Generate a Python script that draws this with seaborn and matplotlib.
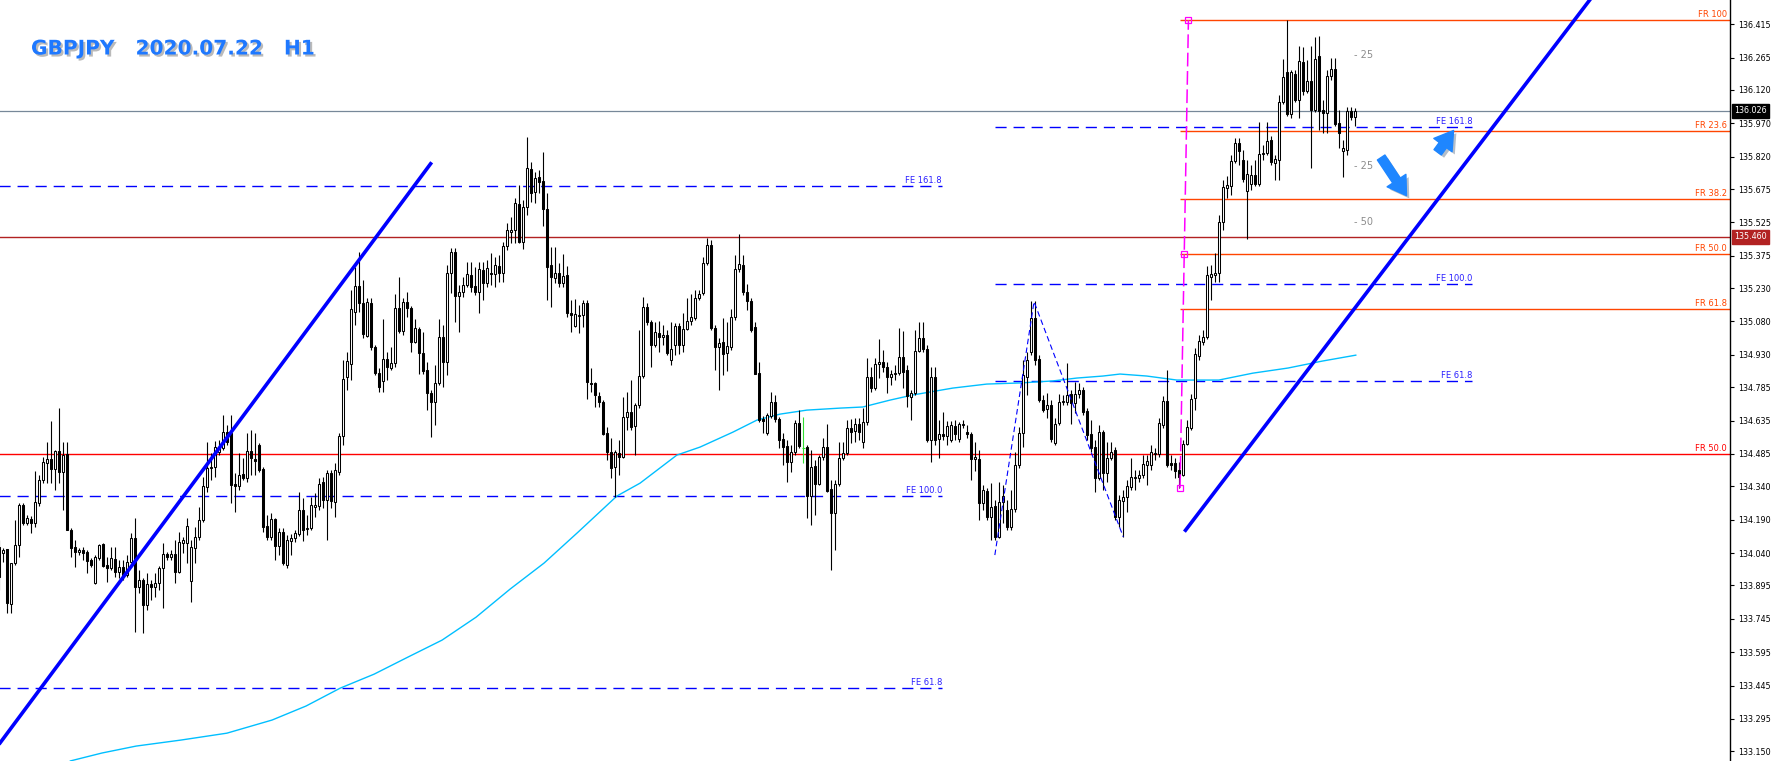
import numpy as np
import pandas as pd
import matplotlib
matplotlib.use("Agg")
import matplotlib.pyplot as plt
import matplotlib.patheffects as pe
from matplotlib.patches import FancyArrowPatch
from matplotlib.transforms import blended_transform_factory
import seaborn as sns

# GBPJPY H1 candles (oldest first)
opens = [
    134.066, 134.040, 134.058, 133.811, 133.995, 134.076, 134.256, 134.175, 134.193, 134.175,
    134.265, 134.368, 134.444, 134.462, 134.417, 134.498, 134.404, 134.485, 134.143, 134.066,
    134.044, 134.053, 134.044, 134.009, 133.906, 134.018, 134.080, 133.986, 133.973, 134.013,
    133.955, 133.977, 133.941, 134.000, 134.107, 133.888, 133.919, 133.806, 133.901, 133.888,
    133.906, 133.973, 134.035, 134.022, 134.035, 133.955, 134.085, 134.085, 133.915, 134.062,
    134.112, 134.188, 134.337, 134.422, 134.426, 134.494, 134.512, 134.583, 134.579, 134.350,
    134.341, 134.395, 134.377, 134.498, 134.462, 134.525, 134.417, 134.161, 134.112, 134.193,
    134.071, 134.134, 133.986, 134.094, 134.107, 134.125, 134.233, 134.148, 134.152, 134.247,
    134.251, 134.359, 134.278, 134.399, 134.269, 134.404, 134.566, 134.831, 134.889, 135.123,
    135.240, 135.163, 135.015, 135.163, 134.966, 134.849, 134.813, 134.912, 134.871, 134.894,
    135.141, 135.037, 135.167, 135.141, 134.988, 135.046, 134.939, 134.862, 134.759, 134.718,
    134.804, 135.010, 134.898, 135.298, 135.392, 135.194, 135.212, 135.244, 135.289, 135.240,
    135.212, 135.311, 135.253, 135.298, 135.293, 135.329, 135.298, 135.419, 135.482, 135.491,
    135.608, 135.437, 135.594, 135.764, 135.662, 135.729, 135.711, 135.585, 135.334, 135.275,
    135.298, 135.253, 135.289, 135.118, 135.060, 135.105, 135.109, 135.163, 134.804, 134.804,
    134.745, 134.718, 134.579, 134.494, 134.426, 134.489, 134.471, 134.651, 134.673, 134.610,
    134.704, 134.835, 135.145, 135.078, 134.975, 135.028, 135.010, 135.019, 134.907, 134.975,
    135.060, 134.975, 135.046, 135.082, 135.096, 135.185, 135.208, 135.343, 135.424, 135.051,
    134.966, 134.988, 134.939, 134.966, 135.100, 135.316, 135.334, 135.212, 135.172, 135.055,
    134.849, 134.642, 134.579, 134.655, 134.718, 134.642, 134.552, 134.521, 134.449, 134.494,
    134.624, 134.512, 134.516, 134.296, 134.431, 134.350, 134.471, 134.516, 134.328, 134.220,
    134.350, 134.467, 134.489, 134.601, 134.588, 134.619, 134.539, 134.628, 134.831, 134.781,
    134.889, 134.898, 134.876, 134.831, 134.844, 134.849, 134.921, 134.862, 134.740, 134.759,
    134.948, 135.006, 134.957, 134.548, 134.831, 134.552, 134.574, 134.565, 134.548, 134.610,
    134.552, 134.615, 134.583, 134.574, 134.462, 134.462, 134.265, 134.319, 134.202, 134.251,
    134.112, 134.269, 134.233, 134.157, 134.238, 134.435, 134.579, 134.831, 134.943, 135.096,
    134.912, 134.727, 134.687, 134.704, 134.534, 134.624, 134.718, 134.718, 134.754, 134.714,
    134.754, 134.772, 134.678, 134.574, 134.516, 134.377, 134.583, 134.399, 134.467, 134.503,
    134.202, 134.274, 134.292, 134.337, 134.377, 134.377, 134.390, 134.435, 134.435, 134.485,
    134.485, 134.615, 134.723, 134.444, 134.444, 134.413, 134.390, 134.530, 134.601, 134.736,
    134.925, 134.988, 135.010, 135.280, 135.289, 135.298, 135.527, 135.680, 135.689, 135.800,
    135.882, 135.805, 135.666, 135.697, 135.738, 135.697, 135.832, 135.836, 135.895, 135.791,
    135.805, 136.066, 136.201, 136.012, 136.192, 136.075, 136.245, 136.116, 136.161, 136.030,
    136.272, 136.030, 136.016, 136.183, 136.214, 135.972, 135.846, 135.850, 136.025, 135.997,
]
highs = [
    134.098, 134.062, 134.058, 133.995, 134.188, 134.265, 134.265, 134.211, 134.206, 134.408,
    134.390, 134.472, 134.539, 134.633, 134.503, 134.691, 134.539, 134.539, 134.152, 134.098,
    134.062, 134.066, 134.053, 134.018, 134.031, 134.080, 134.085, 134.022, 134.066, 134.066,
    134.009, 134.009, 134.031, 134.130, 134.197, 133.964, 133.928, 133.950, 133.919, 133.950,
    133.982, 134.085, 134.044, 134.053, 134.098, 134.134, 134.112, 134.197, 134.098, 134.157,
    134.247, 134.382, 134.539, 134.489, 134.543, 134.548, 134.660, 134.615, 134.660, 134.399,
    134.489, 134.467, 134.579, 134.592, 134.579, 134.534, 134.426, 134.211, 134.220, 134.197,
    134.152, 134.152, 134.120, 134.125, 134.143, 134.314, 134.287, 134.211, 134.292, 134.310,
    134.377, 134.382, 134.413, 134.413, 134.444, 134.579, 134.907, 134.943, 135.221, 135.325,
    135.392, 135.266, 135.185, 135.185, 134.975, 134.871, 135.091, 134.943, 134.966, 135.203,
    135.280, 135.185, 135.212, 135.150, 135.091, 135.055, 135.033, 134.898, 134.772, 134.885,
    135.091, 135.064, 135.334, 135.410, 135.410, 135.244, 135.280, 135.347, 135.347, 135.325,
    135.347, 135.347, 135.356, 135.388, 135.370, 135.379, 135.437, 135.522, 135.549, 135.635,
    135.693, 135.626, 135.909, 135.796, 135.751, 135.760, 135.841, 135.657, 135.415, 135.415,
    135.343, 135.383, 135.329, 135.176, 135.181, 135.154, 135.176, 135.176, 134.871, 134.808,
    134.763, 134.727, 134.606, 134.557, 134.503, 134.548, 134.740, 134.763, 134.817, 134.714,
    135.042, 135.190, 135.163, 135.087, 135.078, 135.082, 135.064, 135.042, 135.078, 135.073,
    135.073, 135.118, 135.185, 135.203, 135.221, 135.221, 135.370, 135.455, 135.446, 135.064,
    135.006, 135.096, 135.078, 135.136, 135.379, 135.473, 135.379, 135.248, 135.185, 135.078,
    134.898, 134.655, 134.669, 134.763, 134.750, 134.651, 134.579, 134.548, 134.525, 134.637,
    134.682, 134.651, 134.525, 134.503, 134.458, 134.480, 134.557, 134.620, 134.368, 134.368,
    134.539, 134.539, 134.637, 134.642, 134.646, 134.646, 134.691, 134.916, 134.876, 134.916,
    135.001, 134.952, 134.898, 134.862, 134.885, 135.051, 135.037, 134.885, 134.772, 135.042,
    135.078, 135.078, 134.975, 134.876, 134.876, 134.637, 134.673, 134.633, 134.633, 134.637,
    134.628, 134.637, 134.615, 134.583, 134.539, 134.503, 134.346, 134.332, 134.355, 134.278,
    134.359, 134.346, 134.278, 134.323, 134.494, 134.606, 134.907, 134.943, 135.172, 135.172,
    134.930, 134.750, 134.759, 134.727, 134.646, 134.754, 134.750, 134.893, 134.772, 134.808,
    134.804, 134.786, 134.691, 134.637, 134.548, 134.615, 134.592, 134.539, 134.539, 134.516,
    134.301, 134.323, 134.368, 134.467, 134.413, 134.413, 134.480, 134.480, 134.525, 134.512,
    134.646, 134.745, 134.862, 134.480, 134.467, 134.449, 134.548, 134.637, 134.754, 134.961,
    135.019, 135.042, 135.329, 135.334, 135.388, 135.558, 135.715, 135.733, 135.827, 135.904,
    135.904, 135.850, 135.805, 135.782, 135.805, 135.976, 135.873, 135.976, 135.913, 135.827,
    136.098, 136.259, 136.434, 136.210, 136.210, 136.317, 136.313, 136.254, 136.317, 136.358,
    136.362, 136.075, 136.210, 136.263, 136.263, 136.030, 135.895, 136.043, 136.043, 136.039,
]
lows = [
    133.874, 134.000, 133.771, 133.771, 133.986, 134.022, 134.166, 134.166, 134.130, 134.157,
    134.251, 134.355, 134.355, 134.355, 134.323, 134.355, 134.233, 134.143, 134.022, 133.977,
    134.031, 134.009, 133.950, 133.977, 133.901, 134.009, 133.977, 133.910, 133.964, 133.932,
    133.928, 133.919, 133.932, 133.995, 133.685, 133.861, 133.681, 133.784, 133.829, 133.843,
    133.874, 133.793, 134.009, 134.009, 133.906, 133.950, 134.040, 133.995, 133.820, 133.995,
    134.098, 134.179, 134.314, 134.368, 134.382, 134.480, 134.503, 134.525, 134.265, 134.224,
    134.323, 134.368, 134.359, 134.390, 134.390, 134.404, 134.134, 134.098, 134.098, 134.009,
    134.031, 133.986, 133.973, 134.031, 134.089, 134.116, 134.094, 134.121, 134.143, 134.202,
    134.233, 134.242, 134.098, 134.242, 134.202, 134.390, 134.525, 134.772, 134.817, 135.064,
    135.123, 135.006, 135.010, 134.952, 134.840, 134.763, 134.763, 134.817, 134.862, 134.876,
    135.028, 135.019, 135.100, 134.943, 134.984, 134.844, 134.844, 134.682, 134.561, 134.615,
    134.795, 134.786, 134.840, 135.208, 135.078, 135.033, 135.190, 135.235, 135.212, 135.199,
    135.118, 135.176, 135.235, 135.244, 135.235, 135.257, 135.257, 135.401, 135.432, 135.432,
    135.432, 135.406, 135.559, 135.617, 135.612, 135.657, 135.509, 135.176, 135.145, 135.253,
    135.235, 135.235, 135.100, 135.033, 135.055, 135.028, 135.055, 134.731, 134.763, 134.696,
    134.696, 134.570, 134.458, 134.377, 134.292, 134.390, 134.467, 134.592, 134.592, 134.480,
    134.691, 134.826, 135.064, 134.876, 134.966, 134.943, 134.975, 134.930, 134.885, 134.930,
    134.934, 134.943, 135.042, 135.064, 135.087, 135.176, 135.199, 135.334, 135.042, 134.862,
    134.772, 134.840, 134.858, 134.952, 135.087, 135.302, 135.199, 135.132, 135.033, 134.844,
    134.628, 134.579, 134.570, 134.646, 134.628, 134.512, 134.435, 134.359, 134.404, 134.480,
    134.512, 134.444, 134.197, 134.166, 134.211, 134.346, 134.458, 134.314, 133.964, 134.053,
    134.341, 134.458, 134.480, 134.534, 134.539, 134.548, 134.512, 134.615, 134.763, 134.772,
    134.826, 134.853, 134.759, 134.795, 134.817, 134.840, 134.781, 134.696, 134.637, 134.750,
    134.943, 134.943, 134.539, 134.449, 134.525, 134.467, 134.548, 134.525, 134.539, 134.548,
    134.539, 134.601, 134.556, 134.368, 134.408, 134.188, 134.233, 134.188, 134.098, 134.098,
    134.107, 134.175, 134.143, 134.143, 134.224, 134.422, 134.516, 134.750, 134.930, 134.885,
    134.718, 134.673, 134.646, 134.539, 134.525, 134.615, 134.704, 134.704, 134.620, 134.669,
    134.736, 134.660, 134.548, 134.494, 134.314, 134.368, 134.323, 134.359, 134.458, 134.188,
    134.157, 134.112, 134.224, 134.323, 134.323, 134.359, 134.377, 134.346, 134.413, 134.458,
    134.472, 134.601, 134.426, 134.413, 134.377, 134.332, 134.386, 134.525, 134.592, 134.682,
    134.907, 134.975, 135.001, 135.176, 135.257, 135.257, 135.491, 135.635, 135.648, 135.791,
    135.782, 135.706, 135.451, 135.671, 135.689, 135.689, 135.805, 135.827, 135.782, 135.715,
    135.715, 136.057, 136.003, 135.994, 136.066, 135.994, 136.098, 136.107, 135.769, 136.021,
    135.940, 135.927, 135.927, 136.165, 135.958, 135.859, 135.729, 135.827, 135.985, 135.958,
]
closes = [
    133.932, 134.053, 133.816, 133.995, 134.076, 134.256, 134.175, 134.197, 134.175, 134.269,
    134.368, 134.449, 134.462, 134.417, 134.498, 134.404, 134.480, 134.143, 134.062, 134.044,
    134.053, 134.040, 134.004, 133.986, 134.022, 134.076, 133.982, 133.973, 134.018, 133.955,
    133.977, 133.941, 134.000, 134.107, 133.888, 133.919, 133.806, 133.901, 133.888, 133.906,
    133.973, 134.035, 134.022, 134.035, 133.955, 134.089, 134.098, 134.161, 134.066, 134.112,
    134.188, 134.341, 134.422, 134.426, 134.516, 134.516, 134.583, 134.539, 134.346, 134.341,
    134.390, 134.377, 134.498, 134.467, 134.453, 134.413, 134.157, 134.112, 134.193, 134.071,
    134.134, 133.995, 134.098, 134.107, 134.130, 134.233, 134.143, 134.152, 134.256, 134.256,
    134.350, 134.278, 134.399, 134.274, 134.413, 134.566, 134.822, 134.903, 135.136, 135.240,
    135.163, 135.024, 135.167, 134.966, 134.849, 134.786, 134.912, 134.876, 134.894, 135.141,
    135.037, 135.167, 135.141, 134.988, 135.051, 134.939, 134.858, 134.759, 134.718, 134.804,
    135.010, 134.898, 135.298, 135.392, 135.194, 135.212, 135.244, 135.293, 135.235, 135.212,
    135.316, 135.253, 135.320, 135.293, 135.334, 135.298, 135.419, 135.491, 135.491, 135.612,
    135.437, 135.594, 135.769, 135.657, 135.724, 135.706, 135.585, 135.325, 135.280, 135.298,
    135.253, 135.284, 135.118, 135.109, 135.114, 135.109, 135.163, 134.808, 134.799, 134.750,
    134.718, 134.574, 134.494, 134.422, 134.494, 134.471, 134.651, 134.673, 134.606, 134.704,
    134.835, 135.145, 135.078, 134.975, 135.033, 135.010, 135.019, 134.939, 134.957, 135.060,
    134.975, 135.046, 135.082, 135.100, 135.185, 135.203, 135.343, 135.424, 135.051, 134.966,
    134.984, 134.934, 134.970, 135.100, 135.316, 135.338, 135.212, 135.172, 135.042, 134.844,
    134.637, 134.633, 134.660, 134.718, 134.642, 134.548, 134.516, 134.449, 134.494, 134.624,
    134.521, 134.512, 134.296, 134.426, 134.350, 134.471, 134.516, 134.319, 134.220, 134.350,
    134.467, 134.489, 134.601, 134.583, 134.619, 134.583, 134.628, 134.831, 134.781, 134.889,
    134.898, 134.876, 134.831, 134.844, 134.849, 134.921, 134.853, 134.745, 134.759, 134.948,
    135.006, 134.957, 134.548, 134.831, 134.548, 134.574, 134.565, 134.610, 134.615, 134.574,
    134.619, 134.619, 134.574, 134.462, 134.471, 134.265, 134.323, 134.202, 134.247, 134.112,
    134.269, 134.296, 134.157, 134.238, 134.435, 134.579, 134.840, 134.907, 135.096, 134.907,
    134.727, 134.682, 134.704, 134.552, 134.619, 134.718, 134.723, 134.750, 134.714, 134.754,
    134.772, 134.673, 134.570, 134.512, 134.377, 134.583, 134.399, 134.467, 134.494, 134.202,
    134.278, 134.292, 134.341, 134.382, 134.382, 134.390, 134.440, 134.453, 134.494, 134.489,
    134.624, 134.723, 134.435, 134.435, 134.408, 134.382, 134.530, 134.606, 134.731, 134.934,
    134.993, 135.010, 135.289, 135.293, 135.298, 135.527, 135.684, 135.693, 135.800, 135.882,
    135.846, 135.720, 135.742, 135.738, 135.697, 135.832, 135.836, 135.891, 135.796, 135.809,
    136.066, 136.178, 136.012, 136.201, 136.075, 136.250, 136.116, 136.161, 136.030, 136.259,
    136.025, 136.016, 136.183, 136.214, 135.967, 135.927, 135.859, 136.025, 135.997, 136.026,
]

# moving average (light blue), read at bar positions
ma_bar = [17.7, 25.7, 34.2, 45.4, 56.9, 68.2, 76.7, 85.2, 93.7, 102.2, 110.7, 119.2,
          127.7, 136.2, 144.7, 154.4, 160.2, 169.4, 175.2, 183.4, 189.4, 195.2, 201.9,
          210.2, 215.9, 222.7, 228.4, 238.4, 246.9, 255.2, 263.4, 269.4, 275.9, 280.2,
          286.9, 294.4, 304.9, 313.4, 322.2, 330.7, 339.2]
ma_val = [133.106, 133.142, 133.173, 133.200, 133.231, 133.290, 133.353, 133.433, 133.496,
          133.573, 133.649, 133.752, 133.878, 133.995, 134.134, 134.296, 134.354, 134.480,
          134.516, 134.583, 134.637, 134.664, 134.682, 134.691, 134.696, 134.727, 134.750,
          134.781, 134.799, 134.804, 134.813, 134.826, 134.835, 134.844, 134.835, 134.817,
          134.817, 134.848, 134.871, 134.902, 134.929]

# right price scale
tick_values = [136.415, 136.265, 136.120, 135.970, 135.820, 135.675, 135.525, 135.375,
               135.230, 135.080, 134.930, 134.785, 134.635, 134.485, 134.340, 134.190,
               134.040, 133.895, 133.745, 133.595, 133.445, 133.295, 133.150]
last_price = 136.026
level_price = 135.460
red_level = 134.485

# fibonacci retracement (swing low -> swing high)
fr_labels = ["FR 100", "FR 23.6", "FR 38.2", "FR 50.0", "FR 61.8"]
fr_values = [136.433, 135.934, 135.629, 135.383, 135.136]
fr_bar = [295.2, 297.3]
fr_price = [134.332, 136.433]

# fibonacci expansions
fe_left_labels = ["FE 161.8", "FE 100.0", "FE 61.8"]
fe_left_values = [135.687, 134.296, 133.436]
fe_right_labels = ["FE 161.8", "FE 100.0", "FE 61.8"]
fe_right_values = [135.954, 135.247, 134.813]
fe_wave_bar = [248.9, 258.7, 281.0]
fe_wave_price = [134.031, 135.169, 134.113]

# trend lines
trend1_bar = [-4.0, 108.1]
trend1_price = [133.086, 135.795]
trend2_bar = [296.3, 400.0]
trend2_price = [134.136, 136.580]

# grey fan labels
fan_labels = ["- 50", "- 25", "- 25", "- 50"]
fan_price = [136.537, 136.277, 135.778, 135.527]

# blue arrows (tail -> head)
arrow_tail = [(345.1, 135.827), (359.2, 135.830)]
arrow_head = [(352.2, 135.635), (364.0, 135.948)]

sns.set_style("white")
plt.rcParams['font.family'] = ['DejaVu Sans']

W, H = 1776, 761
fig = plt.figure(figsize=(W / 100, H / 100), dpi=100)
ax = fig.add_axes([0, 0, 1730 / W, 1])
ax.set_xlim(0.175, 432.7)
ax.set_ylim(133.106, 136.524)
x_right = 445

# horizontal levels
ax.hlines(last_price, -10, x_right, color='#778899', lw=0.9, zorder=1)
ax.hlines(level_price, -10, x_right, color='#B22222', lw=1.0, zorder=1)
ax.hlines(red_level, -10, x_right, color='#FF0000', lw=1.0, zorder=1)
ax.text(431.9, red_level + 0.004, "FR 50.0", color='#FF0000', fontsize=6,
        ha='right', va='bottom')

for lab, val in zip(fr_labels, fr_values):
    ax.hlines(val, fr_bar[0], x_right, color='#FF4500', lw=1.0, zorder=1)
    ax.text(431.9, val + 0.004, lab, color='#FF4500', fontsize=6, ha='right', va='bottom')

fe_col = '#2A1FFF'
for lab, val in zip(fe_left_labels, fe_left_values):
    ax.plot([-10, 235.7], [val, val], color='#0000FF', lw=1.0, ls=(0, (8, 5)), zorder=1)
    ax.text(235.7, val + 0.004, lab, color=fe_col, fontsize=6, ha='right', va='bottom')
for lab, val in zip(fe_right_labels, fe_right_values):
    ax.plot([fe_wave_bar[0], 368.3], [val, val], color='#0000FF', lw=1.0, ls=(0, (8, 5)), zorder=1)
    ax.text(368.3, val + 0.004, lab, color=fe_col, fontsize=6, ha='right', va='bottom')
ax.plot(fe_wave_bar, fe_wave_price, color='#0000FF', lw=0.8, ls=(0, (5, 3)), zorder=5)

# moving average
sns.lineplot(x=ma_bar, y=ma_val, ax=ax, color='#00BFFF', lw=1.0, estimator=None,
             sort=False, zorder=2)

# candles
df = pd.DataFrame({'open': opens, 'high': highs, 'low': lows, 'close': closes})
df['x'] = np.arange(len(df))
up = df[df.close > df.open]
dn = df[df.close < df.open]
dj = df[df.close == df.open]
body = df[df.close != df.open]
ax.vlines(body.x, body.low, body.high, color='black', lw=0.8, zorder=3)
ax.bar(up.x, up.close - up.open, bottom=up.open, width=0.5, facecolor='white',
       edgecolor='black', linewidth=0.75, zorder=4)
ax.bar(dn.x, dn.open - dn.close, bottom=dn.close, width=0.5, facecolor='black',
       edgecolor='black', linewidth=0.75, zorder=4)
ax.vlines(dj.x, dj.low, dj.high, color='#33DD33', lw=0.8, zorder=3)
ax.hlines(dj.close, dj.x - 0.4, dj.x + 0.4, color='#33DD33', lw=0.8, zorder=3)

# trend lines
ax.plot(trend1_bar, trend1_price, color='#0000FF', lw=2.6, zorder=6, solid_capstyle='butt')
ax.plot(trend2_bar, trend2_price, color='#0000FF', lw=2.6, zorder=6, solid_capstyle='butt')

# retracement anchor line
ax.plot(fr_bar, fr_price, color='#FF00FF', lw=1.1, ls=(0, (9, 3)), zorder=5)
ax.plot([fr_bar[0], np.mean(fr_bar), fr_bar[1]],
        [fr_price[0], np.mean(fr_price), fr_price[1]], ls='none', marker='s', ms=4,
        mfc='none', mec='#FF00FF', mew=0.9, zorder=6)

for lab, val in zip(fan_labels, fan_price):
    ax.text(338.8, val, lab, color='#8C8C8C', fontsize=7, ha='left', va='center', clip_on=True)

for (tx, ty), (hx, hy) in zip(arrow_tail, arrow_head):
    arr = FancyArrowPatch((tx, ty), (hx, hy),
                          arrowstyle='simple,head_length=1.0,head_width=1.25,tail_width=0.5',
                          mutation_scale=13, color='#1E86FF', zorder=7,
                          path_effects=[pe.SimplePatchShadow(offset=(2, -2), alpha=0.3), pe.Normal()])
    ax.add_patch(arr)

# axes styling
for s in ['left', 'top', 'bottom']:
    ax.spines[s].set_visible(False)
ax.spines['right'].set_color('black')
ax.spines['right'].set_linewidth(1.0)
ax.set_xticks([])
ax.yaxis.tick_right()
ax.set_yticks(tick_values)
ax.set_yticklabels([f"{v:.3f}" for v in tick_values])
ax.tick_params(axis='y', direction='out', length=3, width=0.8, labelsize=5.8, pad=3,
               colors='black')
ax.set_xlabel('')
ax.set_ylabel('')

tr = blended_transform_factory(ax.transAxes, ax.transData)
ax.text(1.0025, last_price, f"{last_price:.3f}", transform=tr, color='white', fontsize=5.8,
        ha='left', va='center', clip_on=False,
        bbox=dict(boxstyle='square,pad=0.3', fc='black', ec='black'))
ax.text(1.0025, level_price, f"{level_price:.3f}", transform=tr, color='white', fontsize=5.8,
        ha='left', va='center', clip_on=False,
        bbox=dict(boxstyle='square,pad=0.3', fc='#B22222', ec='#B22222'))

fig.text(31 / W, 1 - 54.5 / H, "GBPJPY   2020.07.22   H1", fontsize=14.5, fontweight='bold',
         color='#1E78FF', ha='left', va='baseline',
         path_effects=[pe.SimplePatchShadow(offset=(1.5, -1.5), shadow_rgbFace='#777777', alpha=0.5),
                       pe.Normal()])

fig.savefig('out.png', dpi=100)
